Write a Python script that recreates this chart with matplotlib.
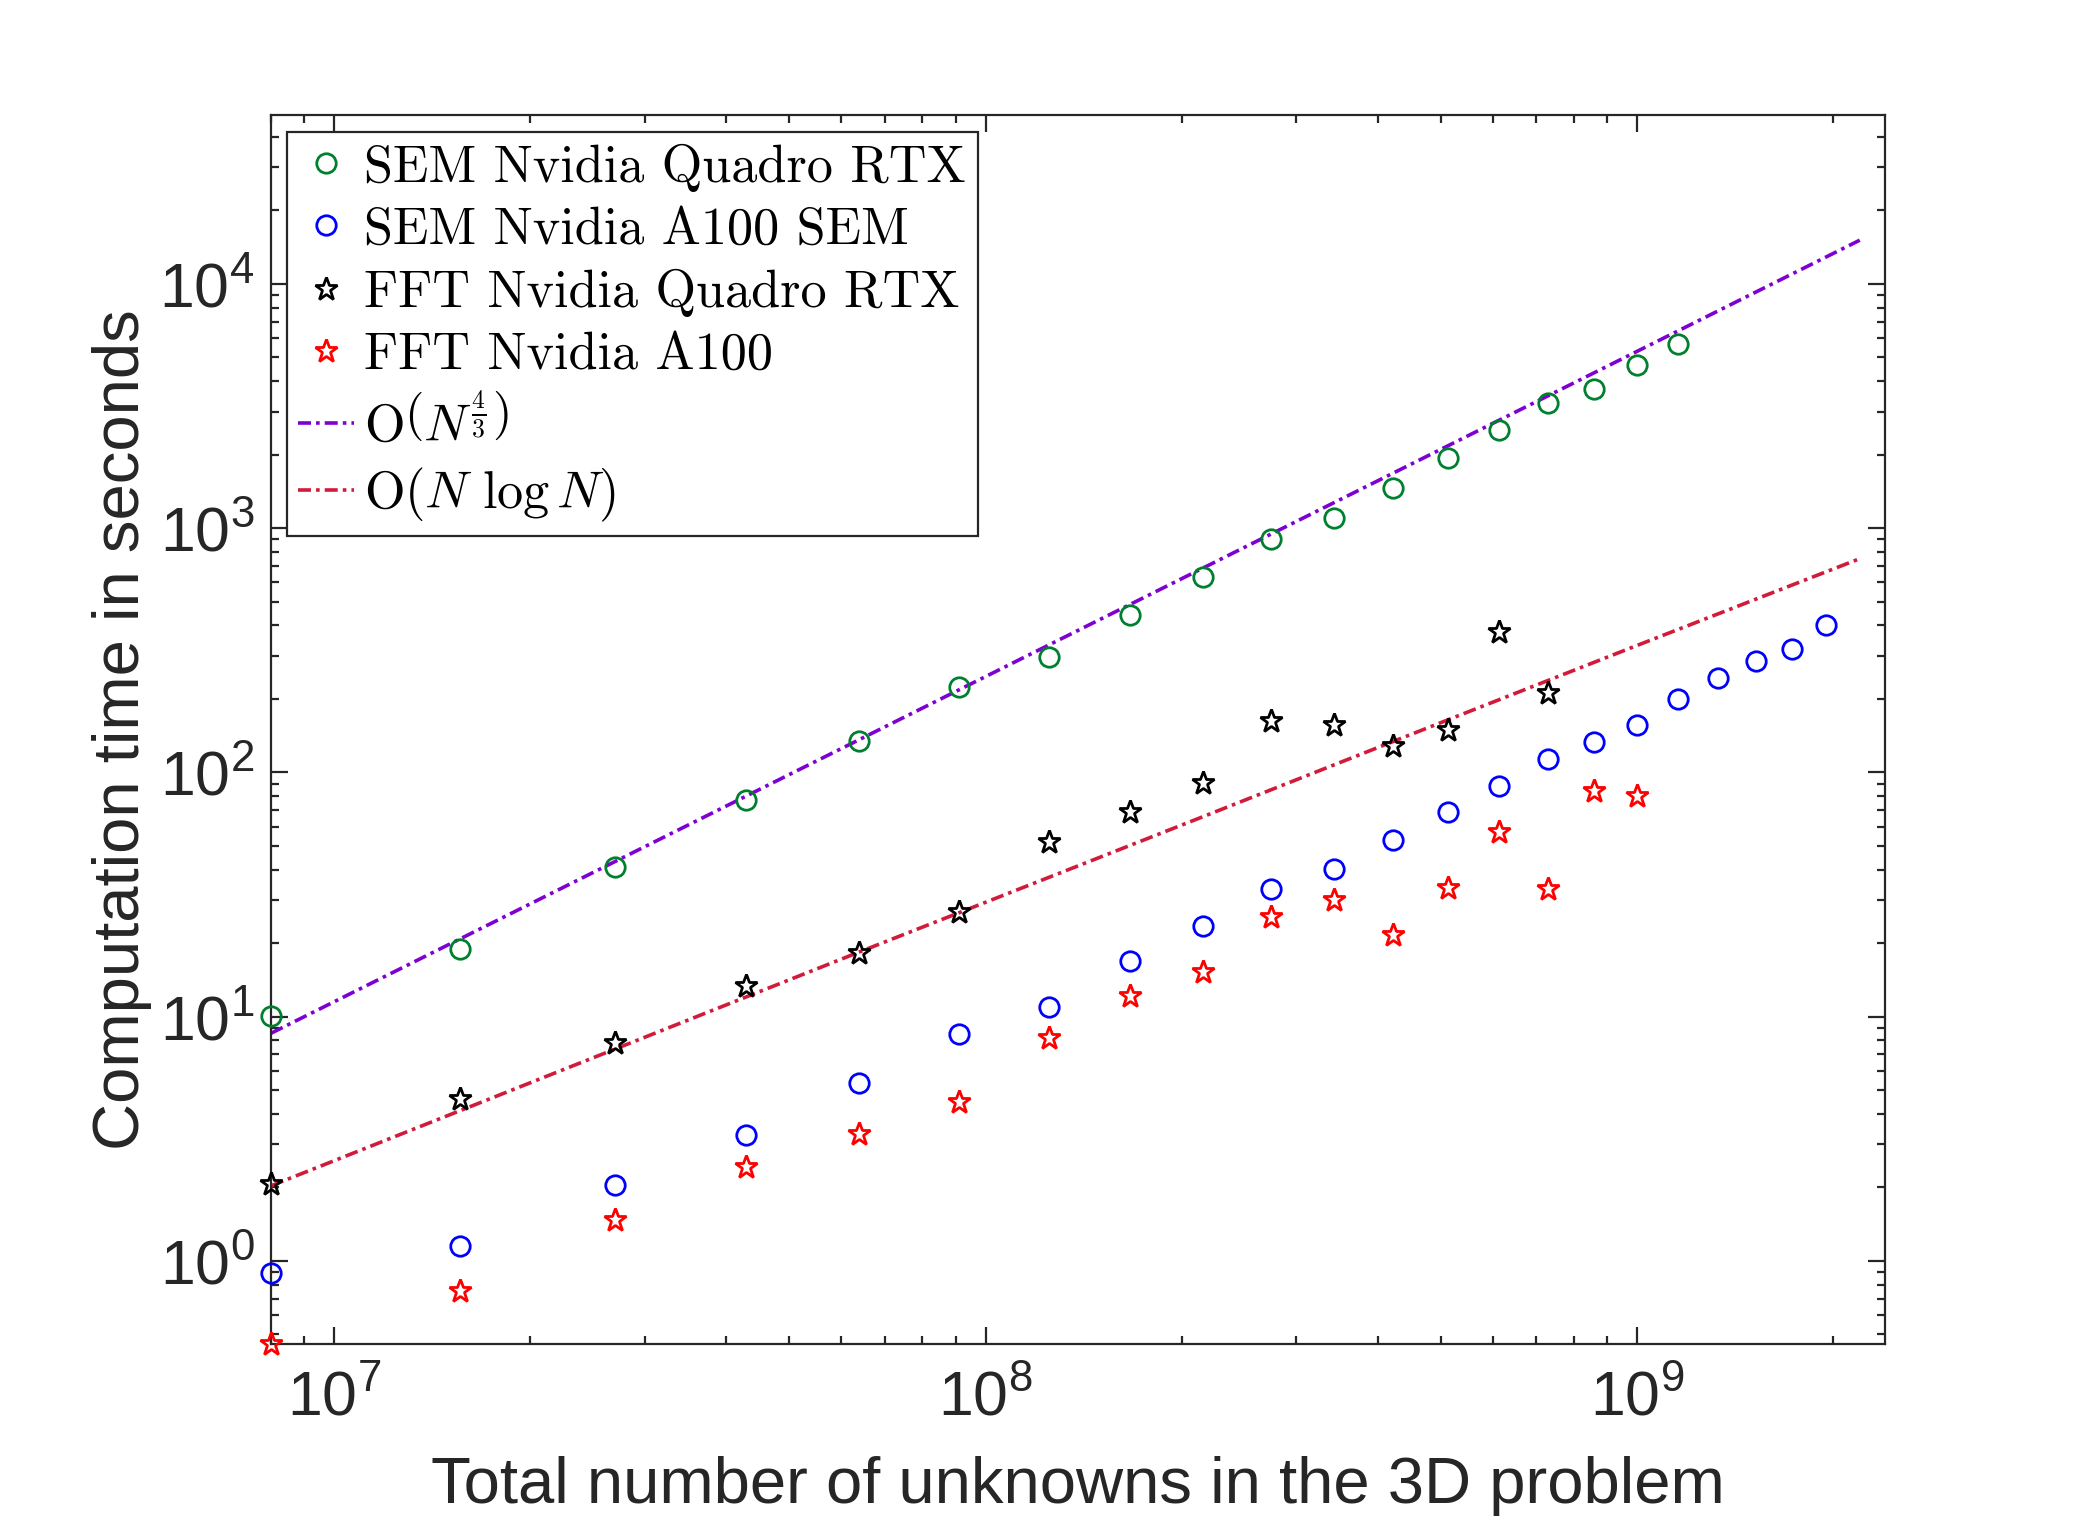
import matplotlib
matplotlib.use('Agg')
import matplotlib.pyplot as plt
from matplotlib.font_manager import FontProperties
from matplotlib.ticker import NullFormatter

plt.rcParams['font.family'] = ['Liberation Sans', 'DejaVu Sans']

# grid sizes n, unknowns N = n^3
n_all = [200, 250, 300, 350, 400, 450, 500, 550, 600, 650, 700, 750,
         800, 850, 900, 950, 1000, 1050, 1100, 1150, 1200, 1250]

sem_rtx = [10.1, 18.9, 41.1, 76.9, 135, 223, 297, 443, 630, 905, 1105, 1455,
           1940, 2525, 3245, 3720, 4660, 5690]
sem_a100 = [0.89, 1.15, 2.04, 3.28, 5.35, 8.5, 11.0, 16.9, 23.4, 33.3, 40.1, 52.8,
            68.7, 88.2, 113, 133, 157, 199, 243, 286, 320, 401]
fft_rtx = [2.07, 4.6, 7.8, 13.3, 18.2, 26.9, 52.1, 68.7, 90.5, 163, 157, 128,
           149, 377, 212]
fft_a100 = [0.455, 0.75, 1.47, 2.43, 3.32, 4.49, 8.19, 12.1, 15.3, 25.6, 30.1, 21.5,
            33.7, 56.9, 33.3, 83.9, 79.8]

# reference slopes, values
n_ref43 = [200, 1300]
ref43 = [8.55, 15100]
n_refnlogn = [200, 400, 600, 800, 1000, 1300]
refnlogn = [2.03, 18.4, 66, 164, 331, 750]


def cube(ns):
    return [n ** 3 for n in ns]


N_all = cube(n_all)

fig = plt.figure(figsize=(10.415, 7.625), dpi=200)
ax = fig.add_axes([0.1301, 0.1187, 0.7749, 0.8061])

ax.plot(N_all[:len(sem_rtx)], sem_rtx, 'o', mfc='none', mec='#00802f', ms=7, mew=1.0,
        clip_on=False, zorder=3, label='SEM Nvidia Quadro RTX')
ax.plot(N_all[:len(sem_a100)], sem_a100, 'o', mfc='none', mec='#0000ff', ms=7, mew=1.0,
        clip_on=False, zorder=3, label='SEM Nvidia A100 SEM')
ax.plot(N_all[:len(fft_rtx)], fft_rtx, '*', mfc='none', mec='k', ms=8.5, mew=1.0,
        clip_on=False, zorder=3, label='FFT Nvidia Quadro RTX')
ax.plot(N_all[:len(fft_a100)], fft_a100, '*', mfc='none', mec='#ff0000', ms=8.5, mew=1.0,
        clip_on=False, zorder=3, label='FFT Nvidia A100')
ax.plot(cube(n_ref43), ref43, color='#7e00d2', lw=1.3, ls=(0, (3.6, 1.4, 1.0, 1.4)),
        label=r'$\mathrm{O}\left(N^{\frac{4}{3}}\right)$')
ax.plot(cube(n_refnlogn), refnlogn, color='#d21a3a', lw=1.3, ls=(0, (3.6, 1.4, 1.0, 1.4)),
        label=r'$\mathrm{O}(N\ \log N)$')

ax.set_xscale('log')
ax.set_yscale('log')
ax.set_xlim(8.0e6, 2.403e9)
ax.set_ylim(0.457, 4.93e4)

dark = '#262626'
for sp in ax.spines.values():
    sp.set_color(dark)
    sp.set_linewidth(0.8)
ax.tick_params(which='both', direction='in', top=True, right=True, colors=dark,
               width=0.8, labelsize=22.5)
ax.tick_params(which='major', length=6)
ax.tick_params(which='minor', length=3)
ax.tick_params(axis='x', which='major', pad=9)
ax.tick_params(axis='y', which='major', pad=6)
ax.xaxis.set_minor_formatter(NullFormatter())
ax.yaxis.set_minor_formatter(NullFormatter())

ax.set_xlabel('Total number of unknowns in the 3D problem', fontsize=23.5, color=dark,
              labelpad=10)
ax.set_ylabel('Computation time in seconds', fontsize=23.5, color=dark, labelpad=2.5)

leg_font = FontProperties(family='cmr10', math_fontfamily='cm', size=18.8)
leg = ax.legend(loc='upper left', bbox_to_anchor=(0.0099, 0.9859), borderaxespad=0,
                prop=leg_font, fancybox=False, framealpha=1, edgecolor=dark,
                handlelength=1.06, handletextpad=0.2, borderpad=0.22,
                labelspacing=0.29)
leg.get_frame().set_linewidth(0.8)

fig.savefig('out.png', dpi=200)
